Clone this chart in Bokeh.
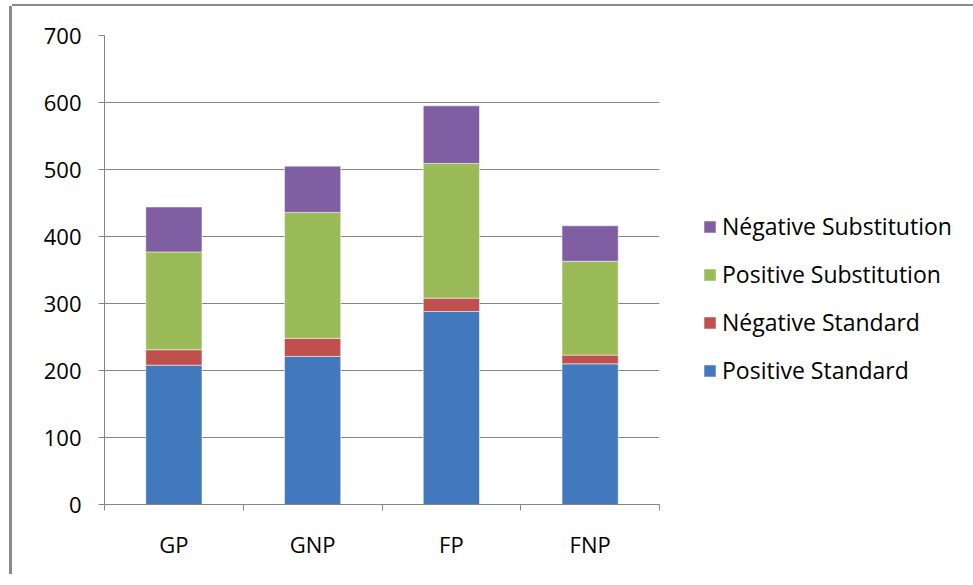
from bokeh.plotting import figure
from bokeh.models import (ColumnDataSource, Range1d, FixedTicker, Legend, LegendItem)
from bokeh.embed import file_html
from bokeh.resources import INLINE

categories = ["GP", "GNP", "FP", "FNP"]
positive_standard = [208, 221, 288, 210]
negative_standard = [23, 27, 20, 13]
positive_substitution = [146, 188, 201, 140]
negative_substitution = [67, 69, 86, 53]
series_names = ["Positive Standard", "Négative Standard",
                "Positive Substitution", "Négative Substitution"]
y_ticks = [0, 100, 200, 300, 400, 500, 600, 700]

colors = ["#4279BC", "#C0504D", "#9BBB59", "#7F5FA1"]
FONT = "Open Sans"

centers = [i + 0.5 for i in range(len(categories))]
bounds = list(range(len(categories) + 1))

src = ColumnDataSource(dict(x=centers,
                            ps=positive_standard, ns=negative_standard,
                            pu=positive_substitution, nu=negative_substitution))

p = figure(x_range=Range1d(0, len(categories)),
           y_range=Range1d(0, 700),
           frame_width=555, frame_height=469,
           output_backend="svg", toolbar_location=None,
           min_border_left=92, min_border_right=302,
           min_border_top=29, min_border_bottom=70)
p.outline_line_color = None
p.styles = {"box-shadow": "-3px 0 0 0 #8a8a8a, 0 -2px 0 0 #8a8a8a",
            "margin-left": "12px", "margin-top": "6px"}

renderers = p.vbar_stack(["ps", "ns", "pu", "nu"], x="x", width=0.405,
                         source=src, color=colors, line_color="white",
                         line_alpha=0.5, line_width=1)

# y axis
p.yaxis.ticker = FixedTicker(ticks=y_ticks)
p.yaxis.axis_line_color = "#868686"
p.yaxis.major_tick_line_color = "#868686"
p.yaxis.major_tick_in = 0
p.yaxis.major_tick_out = 6
p.yaxis.minor_tick_line_color = None
p.yaxis.major_label_text_font = FONT
p.yaxis.major_label_text_font_size = "22px"
p.yaxis.major_label_text_color = "#000000"
p.yaxis.major_label_standoff = 17
p.ygrid.grid_line_color = "#868686"
p.ygrid.grid_line_width = 1
p.xgrid.grid_line_color = None

# x axis: labels at category centres, ticks at category boundaries
p.xaxis.ticker = FixedTicker(ticks=centers, minor_ticks=bounds)
p.xaxis.major_label_overrides = {c: n for c, n in zip(centers, categories)}
p.xaxis.axis_line_color = "#868686"
p.xaxis.major_tick_line_color = None
p.xaxis.minor_tick_line_color = "#868686"
p.xaxis.minor_tick_in = 0
p.xaxis.minor_tick_out = 6
p.xaxis.major_label_text_font = FONT
p.xaxis.major_label_text_font_size = "22px"
p.xaxis.major_label_text_color = "#000000"
p.xaxis.major_label_standoff = 18

items = [LegendItem(label=series_names[i], renderers=[renderers[i]]) for i in [3, 2, 1, 0]]
legend = Legend(items=items, location=(43, 118), orientation="vertical",
                glyph_width=15, glyph_height=15, label_height=24, spacing=16,
                label_standoff=5, padding=0, margin=0,
                label_text_font=FONT, label_text_font_size="23px",
                label_text_color="#000000",
                border_line_color=None, background_fill_alpha=0)
p.add_layout(legend, "right")

open("out.html", "w").write(file_html(p, INLINE))
